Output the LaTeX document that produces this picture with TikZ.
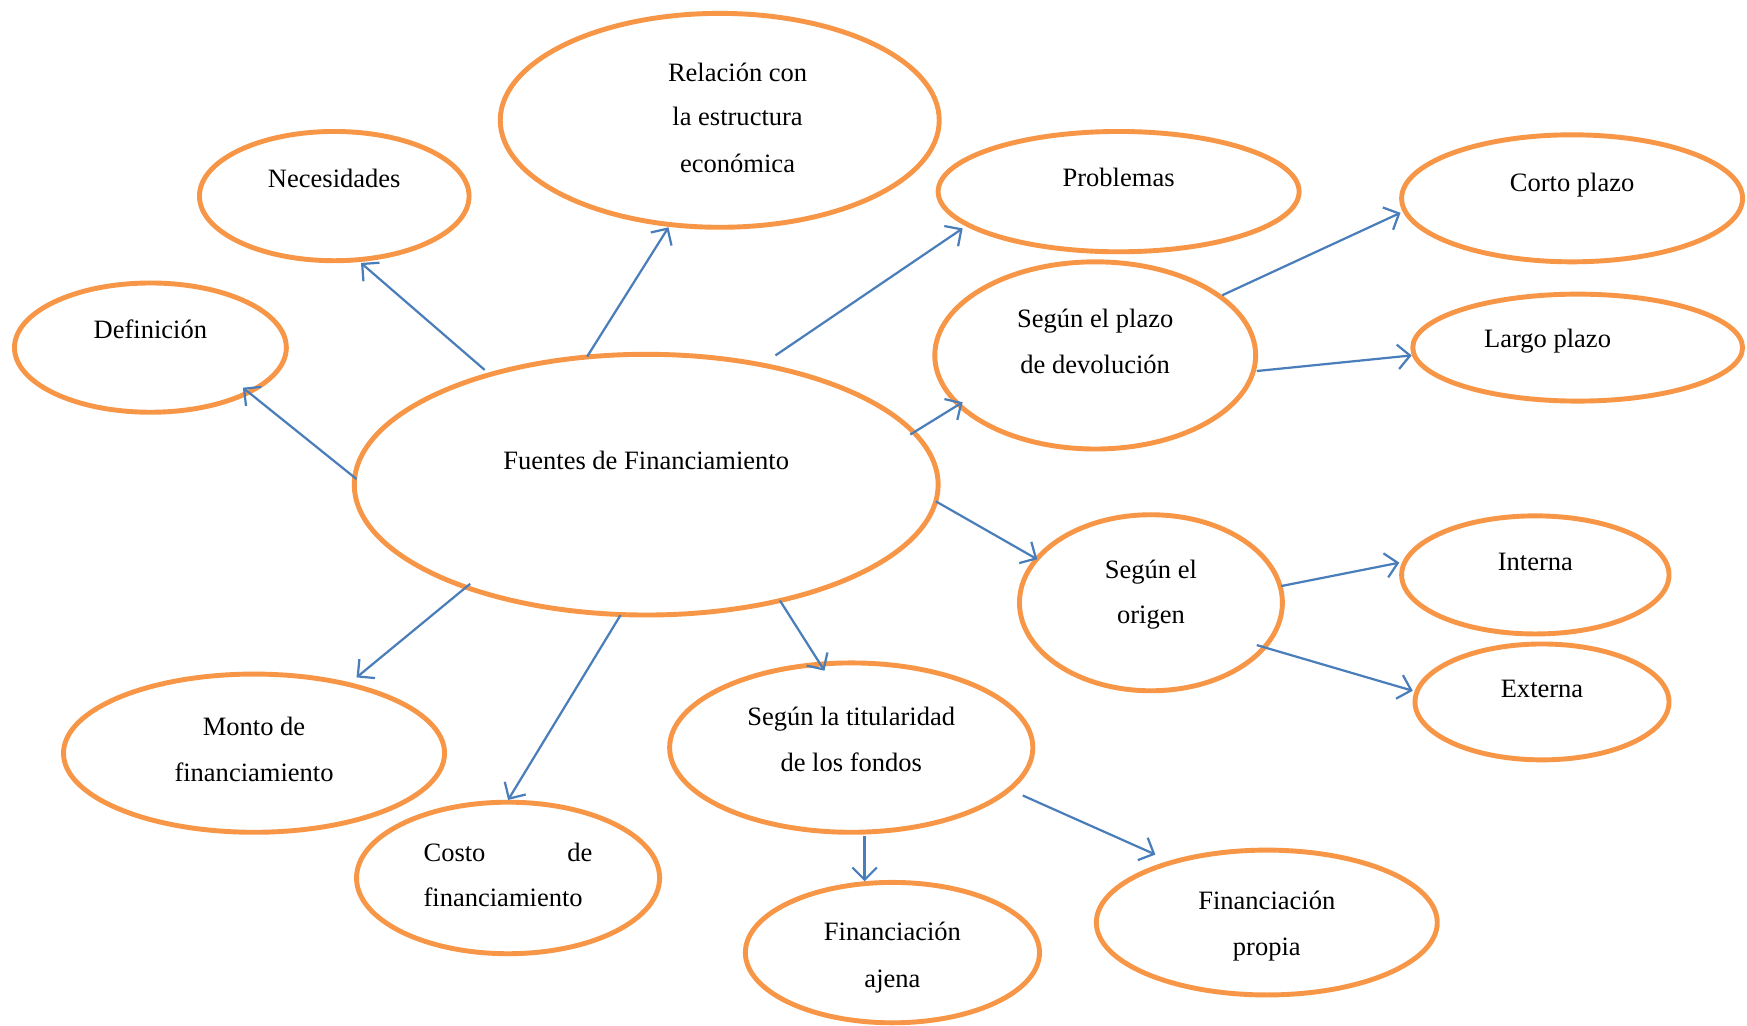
\documentclass[tikz,border=0pt]{standalone}
\usepackage{fontspec}
\setmainfont{Liberation Serif}
\usetikzlibrary{shapes.geometric,arrows.meta}
\definecolor{orng}{HTML}{F79646}
\definecolor{blu}{HTML}{4A7EBB}
\begin{document}
\begin{tikzpicture}[x=1pt,y=-1pt,
  ell/.style={ellipse,draw=orng,line width=4.4pt,inner sep=0pt},
  txt/.style={anchor=base,inner sep=0pt,font=\fontsize{23.8}{28}\selectfont},
  arr/.style={draw=blu,line width=2pt,-{Straight Barb[length=11pt,width=22pt,line width=2pt]}}]
\useasboundingbox (0,0) rectangle (1568,920);
\fill[white] (0,0) rectangle (1568,920);
% ellipses
\node[ell,minimum width=394,minimum height=192] (rel) at (646,108) {};
\node[ell,minimum width=242,minimum height=116] (nec) at (300,176) {};
\node[ell,minimum width=244,minimum height=116] (def) at (135,312) {};
\node[ell,minimum width=524,minimum height=234] (fue) at (580,435) {};
\node[ell,minimum width=324,minimum height=108] (pro) at (1004,172) {};
\node[ell,minimum width=288,minimum height=168] (pla) at (983,319) {};
\node[ell,minimum width=306,minimum height=114] (cor) at (1411,178) {};
\node[ell,minimum width=296,minimum height=96] (lar) at (1416,312) {};
\node[ell,minimum width=236,minimum height=158] (ori) at (1033,541) {};
\node[ell,minimum width=240,minimum height=106] (int) at (1378,516) {};
\node[ell,minimum width=228,minimum height=104] (ext) at (1384,630) {};
\node[ell,minimum width=342,minimum height=142] (mon) at (228,676) {};
\node[ell,minimum width=272,minimum height=136] (cos) at (456,788) {};
\node[ell,minimum width=326,minimum height=152] (tit) at (764,671) {};
\node[ell,minimum width=264,minimum height=126] (aje) at (801,855) {};
\node[ell,minimum width=306,minimum height=130] (pro2) at (1137,828) {};
% texts
\node[txt] (t1) at (662,73) {Relación con};
\node[txt] (t2) at (662,113) {la estructura};
\node[txt] (t3) at (662,155) {económica};
\node[txt] (t4) at (300,168) {Necesidades};
\node[txt] (t5) at (135,304) {Definición};
\node[txt] (t6) at (580,421) {Fuentes de Financiamiento};
\node[txt] (t7) at (1004,167) {Problemas};
\node[txt] (t8) at (983,294) {Según el plazo};
\node[txt] (t9) at (983,335) {de devolución};
\node[txt] (t10) at (1411,172) {Corto plazo};
\node[txt] (t11) at (1389,312) {Largo plazo};
\node[txt] (t12) at (1033,519) {Según el};
\node[txt] (t13) at (1033,560) {origen};
\node[txt] (t14) at (1378,512) {Interna};
\node[txt] (t15) at (1384,626) {Externa};
\node[txt] (t16) at (228,660) {Monto de};
\node[txt] (t17) at (228,701) {financiamiento};
\node[txt,anchor=base west] (t18) at (380,773) {Costo};
\node[txt,anchor=base east] (t19) at (532,773) {de};
\node[txt,anchor=base west] (t20) at (380,814) {financiamiento};
\node[txt] (t21) at (764,651) {Según la titularidad};
\node[txt] (t22) at (764,692) {de los fondos};
\node[txt] (t23) at (801,844) {Financiación};
\node[txt] (t24) at (801,886) {ajena};
\node[txt] (t25) at (1137,816) {Financiación};
\node[txt] (t26) at (1137,858) {propia};
% connector end points
\coordinate (a1) at (435,332); \coordinate (b1) at (324,236);
\coordinate (a2) at (527,320); \coordinate (b2) at (600,204);
\coordinate (a3) at (320,430); \coordinate (b3) at (218,348);
\coordinate (a4) at (696,319); \coordinate (b4) at (864,205);
\coordinate (a5) at (817,390); \coordinate (b5) at (864,361);
\coordinate (a6) at (1097,265); \coordinate (b6) at (1257,191);
\coordinate (a7) at (1128,333); \coordinate (b7) at (1267,319);
\coordinate (a8) at (840,450); \coordinate (b8) at (931,502);
\coordinate (a9) at (1150,526); \coordinate (b9) at (1256,505);
\coordinate (a10) at (1128,579); \coordinate (b10) at (1268,620);
\coordinate (a11) at (422,524); \coordinate (b11) at (320,608);
\coordinate (a12) at (557,552); \coordinate (b12) at (456,718);
\coordinate (a13) at (700,539); \coordinate (b13) at (740,602);
\coordinate (a14) at (776,750); \coordinate (b14) at (776,791);
\coordinate (a15) at (918,714); \coordinate (b15) at (1037,767);
\foreach \i in {1,...,15} {\draw[arr] (a\i) -- (b\i);}
\end{tikzpicture}
\end{document}
